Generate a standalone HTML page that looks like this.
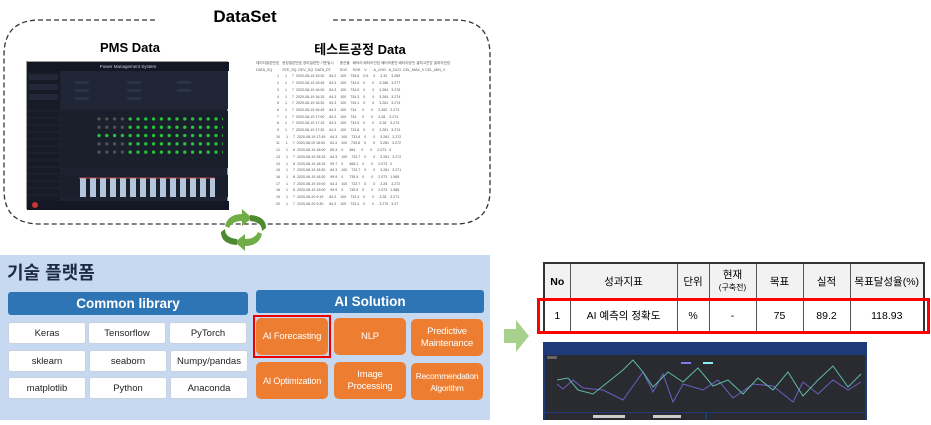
<!DOCTYPE html>
<html><head><meta charset="utf-8"><style>
*{margin:0;padding:0;box-sizing:border-box}
body{width:931px;height:420px;background:#fff;position:relative;overflow:hidden;font-family:"Liberation Sans","Noto Sans CJK KR",sans-serif}
.a{position:absolute}
.t{font-weight:bold;color:#000;text-align:center}
.cell{position:absolute;background:#fff;border:1px solid #c9d3df;border-radius:3px;font-size:9.5px;color:#222;display:flex;align-items:center;justify-content:center;width:78px;height:22px}
.or{position:absolute;background:#ed7d31;border-radius:5px;color:#fff;font-size:9.5px;display:flex;align-items:center;justify-content:center;text-align:center;width:72px;height:37px;line-height:12px;letter-spacing:-0.2px}
table.k{border-collapse:collapse;font-size:10.5px}
table.k td{border:1px solid #555;text-align:center}
.tt{font-size:3.6px;color:#555;white-space:pre;line-height:6.7px;font-family:"Liberation Sans",sans-serif;overflow:hidden}
</style></head><body>
<svg class="a" style="left:0;top:0" width="500" height="260">
<path d="M155 20 H40 Q4 20 4 55 V190 Q4 224 40 224 H455 Q490 224 490 190 V55 Q490 20 455 20 H333" fill="none" stroke="#333" stroke-width="1.3" stroke-dasharray="5,3"/>
<g fill="#70ad47">
<path d="M225 226 Q228 214 242 214 L242 209 L252 218 L242 226 L242 221 Q232 221 229 228 Z"/>
<path d="M262 234 Q259 246 245 246 L245 251 L235 242 L245 234 L245 239 Q255 239 258 232 Z"/>
<path d="M250 215 Q266 216 266 228 L262 231 Q262 222 250 221Z" fill="#4e8a2f"/>
<path d="M237 245 Q221 244 221 232 L225 229 Q225 238 237 239Z" fill="#4e8a2f"/>
</g>
</svg>
<div class="a t" style="left:185px;top:7px;width:120px;font-size:17px">DataSet</div>
<div class="a t" style="left:60px;top:40px;width:140px;font-size:13px">PMS Data</div>
<div class="a t" style="left:270px;top:39px;width:180px;font-size:13px">테스트공정 Data</div>
<div class="a" style="left:26px;top:61px;width:202px;height:148px;background:#1d2230;border:1px solid #999">
<div class="a" style="left:0;top:0;width:202px;height:9px;background:#141824;color:#ccd;font-size:4.5px;text-align:center;line-height:9px">Power Management System</div>
<div class="a" style="left:0;top:9px;width:33px;height:130px;background:#171b26"></div>
<svg class="a" style="left:0;top:9px" width="202" height="139">
<rect x="2" y="3" width="29" height="6" fill="#222838"/><rect x="2" y="13" width="29" height="6" fill="#222838"/><rect x="2" y="23" width="29" height="6" fill="#222838"/>
<g stroke="#2c3344" stroke-width="0.5"><path d="M0 40H33M0 47H33M0 54H33M0 61H33M0 68H33M0 75H33M0 82H33M0 89H33M0 96H33M0 103H33M0 110H33M0 117H33M0 124H33"/></g>
<rect x="34" y="0" width="167" height="38" fill="#202636"/>
<g fill="#2b3246"><rect x="48" y="10" width="14" height="3"/><rect x="100" y="10" width="14" height="3"/><rect x="150" y="10" width="14" height="3"/><rect x="48" y="18" width="14" height="3"/><rect x="100" y="18" width="14" height="3"/><rect x="150" y="18" width="14" height="3"/><rect x="48" y="26" width="14" height="3"/><rect x="100" y="26" width="14" height="3"/></g>
<defs>
<pattern id="dg" x="70" y="46" width="7.8" height="8.3" patternUnits="userSpaceOnUse"><circle cx="2" cy="2" r="1.6" fill="#22cc33"/></pattern>
<pattern id="dgr" x="70" y="46" width="7.8" height="8.3" patternUnits="userSpaceOnUse"><circle cx="2" cy="2" r="1.6" fill="#555"/></pattern>
<pattern id="br" x="52" y="0" width="10" height="30" patternUnits="userSpaceOnUse"><rect x="1" y="0" width="6" height="30" fill="#b4c6dc"/></pattern>
</defs>
<rect x="34" y="40" width="167" height="57" fill="#1a1f2c"/>
<rect x="70" y="46" width="126" height="42" fill="url(#dgr)"/>
<rect x="101" y="46" width="95" height="42" fill="url(#dg)"/>
<rect x="70" y="62" width="30" height="8" fill="url(#dg)"/>
<rect x="34" y="104" width="167" height="22" fill="#1a1f2c"/>
<rect x="52" y="107" width="136" height="19" fill="url(#br)"/>
<path d="M52 107H188" stroke="#e55" stroke-width="0.7"/>
<rect x="0" y="130" width="202" height="9" fill="#141824"/>
<circle cx="8" cy="134" r="3" fill="#c33"/>
</svg>
</div>
<div class="a tt" style="left:256px;top:60px;width:216px;height:149px;background:#fff">데이터일련번호   현장일련번호 장비일련번 기준일시      충전율   배터리 배터리전압 배터리충전 배터리방전 셀최고전압 셀최저전압
DATA_SQ          STE_SQ  DEV_SQ  DATA_DT         SOC     SOH    V       A_CHG   A_DCG  CEL_MAX_V CEL_MIN_V
                     1      1     7  2020-08-19 15:30     64.2    100    735.6    0.9     0     3.32    3.269
                     2      1     7  2020-08-19 15:45     64.3    100    734.9    0       0     3.286   3.277
                     3      1     7  2020-08-19 16:00     64.3    100    734.5    0       0     3.284   3.276
                     4      1     7  2020-08-19 16:15     64.3    100    734.3    0       0     3.284   3.274
                     5      1     7  2020-08-19 16:30     64.3    100    734.1    0       0     3.281   3.274
                     6      1     7  2020-08-19 16:45     64.3    100    734      0       0     3.282   3.273
                     7      1     7  2020-08-19 17:00     64.3    100    734      0       0     3.28    3.274
                     8      1     7  2020-08-19 17:15     64.3    100    733.9    0       0     3.28    3.274
                     9      1     7  2020-08-19 17:30     64.3    100    733.8    0       0     3.281   3.274
                    10      1     7  2020-08-19 17:45     64.3    100    733.8    0       0     3.281   3.272
                    11      1     7  2020-08-19 18:00     64.3    100    733.8    0       0     3.281   3.272
                    12      1     8  2020-08-19 18:00     85.3    0      384      0       0     2.073   0
                    13      1     7  2020-08-19 18:15     64.3    100    733.7    0       0     3.281   3.272
                    14      1     8  2020-08-19 18:15     99.7    0      468.1    0       0     2.073   0
                    15      1     7  2020-08-19 18:30     64.3    100    733.7    0       0     3.281   3.271
                    16      1     8  2020-08-19 18:30     99.9    0      735.5    0       0     2.073   1.985
                    17      1     7  2020-08-19 19:00     64.3    100    733.7    0       0     3.28    3.272
                    18      1     8  2020-08-19 19:00     99.9    0      735.5    0       0     2.073   1.985
                    19      1     7  2020-08-20 9:15      64.3    100    733.4    0       0     3.28    3.271
                    20      1     7  2020-08-20 9:30      64.3    100    733.4    0       0     3.279   3.27</div>
<div class="a" style="left:0;top:255px;width:490px;height:165px;background:#c6d9f1"></div>
<div class="a" style="left:7px;top:259px;font-size:18px;font-weight:bold;color:#1f2a44">기술 플랫폼</div>
<div class="a" style="left:8px;top:292px;width:240px;height:23px;background:#2e75b6;border-radius:3px;color:#fff;font-size:13.5px;font-weight:bold;text-align:center;line-height:23px">Common library</div>
<div class="a" style="left:256px;top:290px;width:228px;height:23px;background:#2e75b6;border-radius:3px;color:#fff;font-size:13.5px;font-weight:bold;text-align:center;line-height:23px">AI Solution</div>
<div class="cell" style="left:8px;top:322px">Keras</div>
<div class="cell" style="left:88px;top:322px">Tensorflow</div>
<div class="cell" style="left:169px;top:322px">PyTorch</div>
<div class="cell" style="left:8px;top:350px">sklearn</div>
<div class="cell" style="left:89px;top:350px">seaborn</div>
<div class="cell" style="left:170px;top:350px">Numpy/pandas</div>
<div class="cell" style="left:8px;top:377px">matplotlib</div>
<div class="cell" style="left:89px;top:377px">Python</div>
<div class="cell" style="left:170px;top:377px">Anaconda</div>
<div class="or" style="left:256px;top:318px">AI Forecasting</div>
<div class="or" style="left:334px;top:318px">NLP</div>
<div class="or" style="left:411px;top:319px">Predictive<br>Maintenance</div>
<div class="or" style="left:256px;top:362px;font-size:9px">AI Optimization</div>
<div class="or" style="left:334px;top:362px">Image Processing</div>
<div class="or" style="left:411px;top:363px;font-size:8.5px;letter-spacing:-0.3px">Recommendation<br>Algorithm</div>
<div class="a" style="left:253px;top:315px;width:78px;height:43px;border:2px solid #e00"></div>
<svg class="a" style="left:504px;top:320px" width="26" height="32"><path d="M0 9H12V0L25 16L12 32V23H0Z" fill="#a9d18e"/></svg>
<table class="k a" style="left:543px;top:262px;width:382px;height:71px;border:2px solid #333">
<tr style="height:37px;background:#f2f2f2"><td style="width:26px;font-weight:bold">No</td><td style="width:107px">성과지표</td><td style="width:32px">단위</td><td style="width:47px;line-height:12px">현재<br><span style="font-size:8px">(구축전)</span></td><td style="width:47px">목표</td><td style="width:47px">실적</td><td>목표달성율(%)</td></tr>
<tr><td>1</td><td>AI 예측의 정확도</td><td>%</td><td>-</td><td>75</td><td>89.2</td><td>118.93</td></tr>
</table>
<div class="a" style="left:537px;top:298px;width:393px;height:36px;border:3px solid #f00"></div>
<div class="a" style="left:543px;top:342px;width:324px;height:78px;background:#1f3a78">
<svg width="324" height="78">
<rect x="2" y="13" width="320" height="57" fill="#2a2b30"/>
<rect x="2" y="71" width="160" height="7" fill="#2a2b30"/><rect x="164" y="71" width="158" height="7" fill="#2a2b30"/>
<rect x="4" y="14" width="10" height="3" fill="#666"/>
<rect x="138" y="20" width="10" height="2" fill="#8877ee"/><rect x="160" y="20" width="10" height="2" fill="#88eeee"/>
<path d="M14 42 L20 47 L30 38 L40 46 L60 48 L80 58 L100 30 L110 50 L120 32 L130 60 L140 42 L160 48 L175 38 L190 56 L210 42 L230 44 L250 60 L260 40 L275 52 L290 38 L305 48 L318 40" fill="none" stroke="#6a5fc0" stroke-width="1"/>
<path d="M14 38 L25 36 L35 48 L50 52 L65 40 L80 28 L90 18 L100 30 L110 45 L125 30 L140 40 L155 26 L170 44 L185 38 L200 52 L215 36 L230 48 L245 30 L260 54 L275 38 L290 24 L305 45 L318 32" fill="none" stroke="#5fb8a8" stroke-width="1"/>
<rect x="50" y="73" width="32" height="3" fill="#ccc"/><rect x="110" y="73" width="28" height="3" fill="#ccc"/>
</svg>
</div>
</body></html>
